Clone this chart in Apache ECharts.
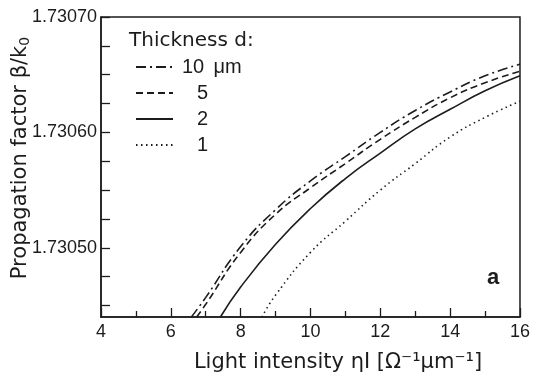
<!DOCTYPE html>
<html>
<head>
<meta charset="utf-8">
<script src="https://cdn.jsdelivr.net/npm/echarts@6/dist/echarts.min.js"></script>
<style>
  html, body { margin: 0; padding: 0; background: #fff; }
  #chart { width: 533px; height: 377px; }
</style>
</head>
<body>
<div id="chart"></div>
<script>
// thickness d = 10 um (dash-dot)
const x10 = [6.59, 7, 8, 9, 10, 11, 12, 13, 14, 15, 16];
const y10 = [1.73044, 1.730457, 1.730501, 1.730533, 1.730558, 1.730579, 1.730600, 1.730619, 1.730635, 1.730649, 1.730659];
// d = 5 (dashed)
const x5 = [6.74, 7, 8, 9, 10, 11, 12, 13, 14, 15, 16];
const y5 = [1.73044, 1.730451, 1.730496, 1.730529, 1.730552, 1.730573, 1.730594, 1.730613, 1.730630, 1.730643, 1.730653];
// d = 2 (solid)
const x2 = [7.42, 8, 9, 10, 11, 12, 13, 14, 15, 16];
const y2 = [1.73044, 1.730466, 1.730503, 1.730534, 1.730560, 1.730582, 1.730603, 1.730620, 1.730636, 1.730649];
// d = 1 (dotted)
const x1 = [8.61, 9, 10, 11, 12, 13, 14, 15, 16];
const y1 = [1.73044, 1.730459, 1.730496, 1.730523, 1.730550, 1.730573, 1.730596, 1.730613, 1.730627];

const yLabels = [1.73050, 1.73060, 1.73070];
const yTicks = [1.730450, 1.730475, 1.730500, 1.730525, 1.730550, 1.730575, 1.730600, 1.730625, 1.730650, 1.730675, 1.730700];

const ink = '#1c1c1c';
const font = 'Liberation Sans, Arial, sans-serif';
const wide = 'DejaVu Sans, sans-serif';

function pairs(xs, ys) {
  return xs.map((x, i) => [x, ys[i]]);
}

function line(name, xs, ys, dash) {
  return {
    name: name,
    type: 'line',
    data: pairs(xs, ys),
    smooth: true,
    symbol: 'none',
    clip: true,
    lineStyle: { color: ink, width: 1.6, type: dash },
    itemStyle: { color: ink }
  };
}

const chart = echarts.init(document.getElementById('chart'), null, { renderer: 'canvas' });
chart.setOption({
  animation: false,
  backgroundColor: '#fff',
  textStyle: { fontFamily: font, color: ink },
  title: {
    text: 'Thickness d:',
    left: 129,
    top: 31,
    padding: 0,
    textStyle: { fontFamily: wide, fontSize: 20, fontWeight: 'normal', color: ink }
  },
  legend: {
    orient: 'vertical',
    left: 135,
    top: 57,
    padding: 0,
    itemWidth: 37,
    itemHeight: 14,
    itemGap: 6,
    itemStyle: { opacity: 0 },
    data: ['10 μm', '5', '2', '1'],
    formatter: function (name) {
      const parts = name.split(' ');
      return '{n|' + parts[0] + '}' + (parts[1] ? ' ' + parts[1] : '');
    },
    textStyle: {
      fontFamily: font, fontSize: 20, color: ink, lineHeight: 20,
      rich: { n: { width: 30, align: 'right', fontSize: 20, fontFamily: font, color: ink } }
    }
  },
  grid: {
    left: 101, right: 5, top: 17, bottom: 60,
    show: true, borderColor: ink, borderWidth: 1.5
  },
  xAxis: {
    type: 'value',
    min: 4, max: 16, interval: 2,
    axisLine: { lineStyle: { color: ink, width: 1.5 } },
    axisTick: { inside: true, length: 9, lineStyle: { color: ink, width: 1.3 } },
    minorTick: { show: true, splitNumber: 2, length: 6, lineStyle: { color: ink, width: 1.3 } },
    splitLine: { show: false },
    axisLabel: { margin: 6, fontSize: 18, fontFamily: font, color: ink }
  },
  yAxis: {
    type: 'value',
    min: 1.73044, max: 1.73070,
    axisLine: { show: true, lineStyle: { color: ink, width: 1.5 } },
    axisTick: {
      inside: true, length: 9, customValues: yTicks,
      lineStyle: { color: ink, width: 1.3 }
    },
    splitLine: { show: false },
    axisLabel: {
      margin: 4, fontSize: 18, fontFamily: font, color: ink,
      customValues: yLabels,
      formatter: v => v.toFixed(5)
    }
  },
  graphic: [
    {
      type: 'text',
      x: 21, y: 158, rotation: Math.PI / 2,
      style: {
        text: 'Propagation factor β/k{s|0}',
        font: '21px ' + wide,
        fill: ink,
        align: 'center',
        verticalAlign: 'middle',
        rich: { s: { fontSize: 14, fontFamily: wide, verticalAlign: 'bottom', padding: [8, 0, 0, 0] } }
      }
    },
    {
      type: 'text',
      x: 338, y: 363,
      style: {
        text: 'Light intensity ηI [Ω⁻¹μm⁻¹]',
        font: '21px ' + wide,
        fill: ink,
        align: 'center',
        verticalAlign: 'middle'
      }
    },
    {
      type: 'text',
      x: 493, y: 278,
      style: { text: 'a', font: 'bold 22px ' + font, fill: ink, align: 'center', verticalAlign: 'middle' }
    }
  ],
  series: [
    line('10 μm', x10, y10, [10, 4, 2, 4]),
    line('5', x5, y5, [7, 4]),
    line('2', x2, y2, 'solid'),
    line('1', x1, y1, [1.5, 3.5])
  ]
});
</script>
</body>
</html>
